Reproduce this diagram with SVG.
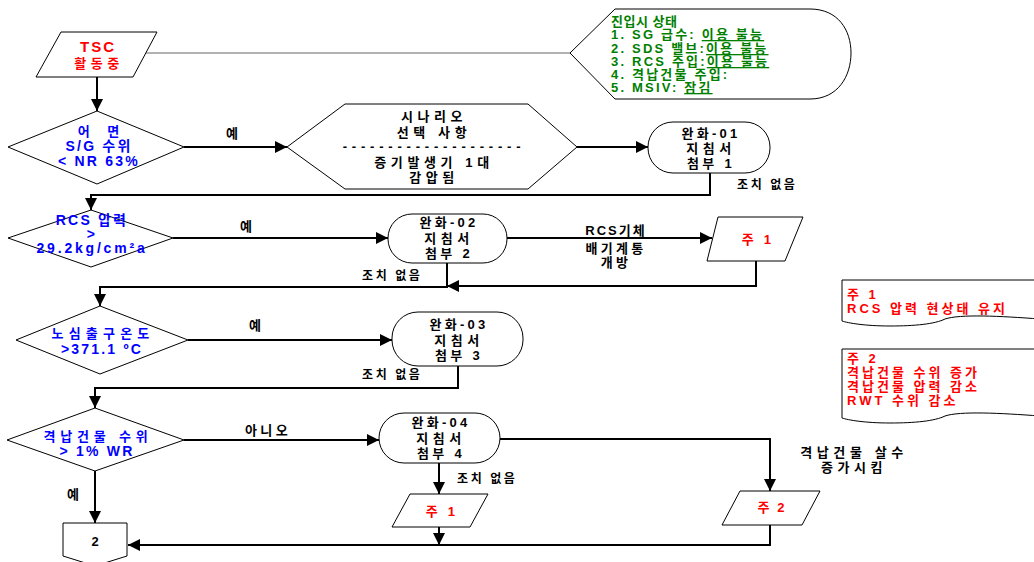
<svg xmlns="http://www.w3.org/2000/svg" width="1034" height="562" viewBox="0 0 1034 562">
<style>
text{font-family:"Liberation Sans","Noto Sans CJK KR",sans-serif;font-weight:bold;font-size:13px;letter-spacing:2px}
.c{text-anchor:middle}
.k{fill:#000}
.r{fill:#ff0000}
.b{fill:#0000ff}
.g{fill:#007f00;font-size:13px;letter-spacing:2.2px}
.n{fill:#ff0000;font-size:13px;letter-spacing:3px}
.s3{letter-spacing:3.3px}
.s4{letter-spacing:4.6px}
.la{font-size:14px;letter-spacing:2.2px}
.sh{fill:#fff;stroke:#000;stroke-width:1}
.ln{fill:none;stroke:#000;stroke-width:2}
.gr{fill:none;stroke:#666;stroke-width:1.2}
.lb{font-size:12px;letter-spacing:2.6px}
</style>
<defs>
<marker id="ah" viewBox="0 0 10 10" refX="10" refY="5" markerWidth="13" markerHeight="12" markerUnits="userSpaceOnUse" orient="auto"><path d="M0,0 L10,5 L0,10 z" fill="#000"/></marker>
</defs>
<rect width="1034" height="562" fill="#fff"/>

<g id="connectors">
<path class="gr" d="M146,53 H570"/>
<path class="ln" d="M97,77 V111" stroke-width="2.5" marker-end="url(#ah)"/>
<path class="ln" d="M184,147 H287" marker-end="url(#ah)"/>
<path class="ln" d="M577,147 H648" marker-end="url(#ah)"/>
<path class="ln" d="M710,173 V195 H91 V210" marker-end="url(#ah)"/>
<path class="ln" d="M173,238 H388" marker-end="url(#ah)"/>
<path class="ln" d="M507,238 H712" marker-end="url(#ah)"/>
<path class="ln" d="M756,261 V286 H447" marker-end="url(#ah)"/>
<path class="ln" d="M447,263 V287 H100 V306" marker-end="url(#ah)"/>
<path class="ln" d="M188,340 H392" marker-end="url(#ah)"/>
<path class="ln" d="M458,366 V388 H95 V408" marker-end="url(#ah)"/>
<path class="ln" d="M184,440 H379" marker-end="url(#ah)"/>
<path class="ln" d="M439,463 V494" marker-end="url(#ah)"/>
<path class="ln" d="M439,527 V545" marker-end="url(#ah)"/>
<path class="ln" d="M500,439 H770 V491" marker-end="url(#ah)"/>
<path class="ln" d="M770,525 V545 H128" marker-end="url(#ah)"/>
<path class="ln" d="M95,471 V523" marker-end="url(#ah)"/>
<text class="k c" x="233" y="138">예</text>
<text class="k c" x="247" y="231">예</text>
<text class="k c" x="256" y="330">예</text>
<text class="k c s3" x="268" y="435">아니오</text>
<text class="k c" x="74" y="499">예</text>
<text class="k lb" x="737" y="189">조치 없음</text>
<text class="k lb" x="362" y="280">조치 없음</text>
<text class="k lb" x="362" y="379">조치 없음</text>
<text class="k lb" x="457" y="483">조치 없음</text>
<text class="k c" x="616" y="235">RCS기체</text>
<text class="k c s3" x="616" y="253">배기계통</text>
<text class="k c s3" x="616" y="267">개방</text>
<text class="k c s4" x="854" y="457">격납건물 살수</text>
<text class="k c s4" x="854" y="472">증가시킴</text>
</g>

<g id="tsc">
<path class="sh" d="M61,32 H157 L133,77 H36 Z"/>
<text class="r c" x="98" y="52" style="font-size:15px">TSC</text>
<text class="r c s4" x="99" y="68">활동중</text>
</g>

<g id="status">
<path class="sh" d="M570,53 L615,9 H810 C838,9 851,30 851,53 C851,76 838,99 810,99 H615 Z"/>
<text class="g" x="611" y="26" style="letter-spacing:0.5px">진입시 상태</text>
<text class="g" x="611" y="39">1. SG 급수: <tspan text-decoration="underline">이용 불능</tspan></text>
<text class="g" x="611" y="53">2. SDS 밸브:<tspan text-decoration="underline">이용 불능</tspan></text>
<text class="g" x="611" y="66">3. RCS 주입:<tspan text-decoration="underline">이용 불능</tspan></text>
<text class="g" x="611" y="79">4. 격납건물 주입:</text>
<text class="g" x="611" y="92">5. MSIV: <tspan text-decoration="underline">잠김</tspan></text>
</g>

<g id="d1">
<path class="sh" d="M8,147 L97,111 L184,147 L97,184 Z"/>
<text class="b c" x="102" y="136" style="letter-spacing:7px">어 면</text>
<text class="b c la" x="99" y="151">S/G 수위</text>
<text class="b c la" x="99" y="166">&lt; NR 63%</text>
</g>

<g id="scenario">
<path class="sh" d="M287,147 L345,104 H528 L577,147 L528,189 H345 Z"/>
<text class="k c s4" x="434" y="121">시나리오</text>
<text class="k c s4" x="434" y="137">선택 사항</text>
<text class="k c" x="434" y="151" style="letter-spacing:4.8px">--------------------</text>
<text class="k c s4" x="434" y="167">증기발생기 1대</text>
<text class="k c s4" x="434" y="182">감압됨</text>
</g>

<g id="w01">
<rect class="sh" x="648" y="122" width="122" height="51" rx="25" ry="25"/>
<text class="k c s3" x="711" y="138">완화-01</text>
<text class="k c s4" x="711" y="153">지침서</text>
<text class="k c s3" x="711" y="168">첨부 1</text>
</g>

<g id="d2">
<path class="sh" d="M8,238 L91,210 L173,238 L91,267 Z"/>
<text class="b c la" x="92" y="225">RCS 압력</text>
<text class="b c la" x="92" y="239">&gt;</text>
<text class="b c la" x="92" y="253" style="letter-spacing:2.8px">29.2kg/cm²a</text>
</g>

<g id="w02">
<rect class="sh" x="388" y="214" width="119" height="49" rx="24" ry="24"/>
<text class="k c s3" x="449" y="227">완화-02</text>
<text class="k c s4" x="449" y="243">지침서</text>
<text class="k c s3" x="449" y="258">첨부 2</text>
</g>

<g id="note1a">
<path class="sh" d="M718,217 H803 L785,261 H707 Z"/>
<text class="r c s3" x="758" y="244">주 1</text>
</g>

<g id="d3">
<path class="sh" d="M16,340 L100,306 L188,340 L100,374 Z"/>
<text class="b c" x="103" y="338" style="letter-spacing:5.2px">노심출구온도</text>
<text class="b c la" x="102" y="354">&gt;371.1 ºC</text>
</g>

<g id="w03">
<rect class="sh" x="392" y="312" width="131" height="54" rx="26" ry="26"/>
<text class="k c s3" x="459" y="329">완화-03</text>
<text class="k c s4" x="459" y="345">지침서</text>
<text class="k c s3" x="459" y="360">첨부 3</text>
</g>

<g id="d4">
<path class="sh" d="M7,440 L95,408 L184,440 L95,471 Z"/>
<text class="b c" x="98" y="441" style="letter-spacing:4.8px">격납건물 수위</text>
<text class="b c la" x="97" y="456">&gt; 1% WR</text>
</g>

<g id="w04">
<rect class="sh" x="379" y="413" width="121" height="50" rx="25" ry="25"/>
<text class="k c s3" x="441" y="427">완화-04</text>
<text class="k c s4" x="441" y="443">지침서</text>
<text class="k c s3" x="441" y="458">첨부 4</text>
</g>

<g id="note1b">
<path class="sh" d="M410,494 H488 L470,527 H392 Z"/>
<text class="r c s3" x="442" y="516">주 1</text>
</g>

<g id="note2">
<path class="sh" d="M740,491 H820 L802,525 H722 Z"/>
<text class="r c" x="772" y="512">주 2</text>
</g>

<g id="offpage2">
<path class="sh" d="M63,523 H127 V556 L95,566 L63,556 Z"/>
<text class="k c" x="96" y="546">2</text>
</g>

<g id="memo1">
<path class="sh" d="M842,280 H1040 V319 C1000,316 960,314 945,319 C935,324 915,326 890,326 C865,326 848,323 842,321 Z"/>
<text class="n" x="847" y="299">주 1</text>
<text class="n" x="847" y="313">RCS 압력 현상태 유지</text>
</g>

<g id="memo2">
<path class="sh" d="M842,349 H1040 V416 C1000,413 960,411 945,416 C935,421 915,423 890,423 C865,423 848,420 842,418 Z"/>
<text class="n" x="847" y="363">주 2</text>
<text class="n" x="847" y="377">격납건물 수위 증가</text>
<text class="n" x="847" y="391">격납건물 압력 감소</text>
<text class="n" x="847" y="405">RWT 수위 감소</text>
</g>
</svg>
